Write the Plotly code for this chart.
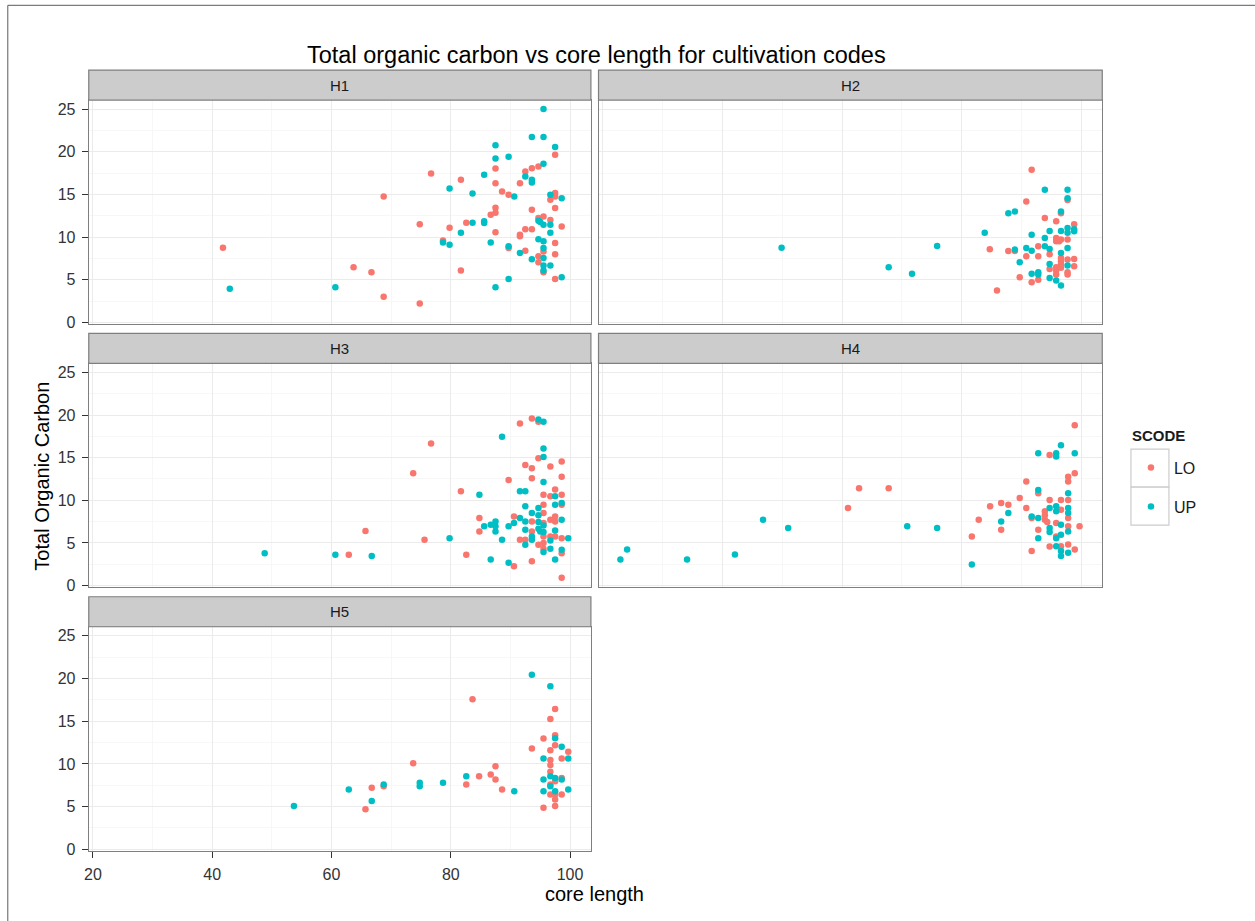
import plotly.graph_objects as go

# ---------------- data ----------------
panels = ["H1", "H2", "H3", "H4", "H5"]
codes = ["LO", "UP"]

h1_lo_x = [41.8, 63.7, 66.7, 68.75, 68.75, 74.8, 74.8, 76.7, 79.8, 81.7, 81.7, 82.6, 78.7, 87.5, 87.5, 87.5, 86.7, 87.5,
           87.5, 88.6, 89.7, 89.7, 91.6, 92.5, 93.6, 94.7, 93.6, 91.6, 91.6, 92.5, 93.6, 92.5, 94.7, 95.55, 96.7, 94.7,
           94.7, 95.55, 95.55, 96.7, 97.5, 97.5, 97.5, 97.5, 97.5, 97.5, 97.5, 98.6]
h1_lo_y = [8.76, 6.46, 5.88, 14.76, 3.0, 11.49, 2.22, 17.45, 11.1, 16.7, 6.07, 11.68, 9.6, 18.03, 16.3, 13.43, 12.6, 12.85,
           10.55, 15.34, 14.95, 8.72, 16.3, 17.68, 18.07, 18.26, 13.2, 10.28, 10.1, 10.9, 10.9, 8.41, 12.23, 12.4, 12.0, 7.75,
           7.05, 8.3, 5.88, 14.37, 15.15, 14.76, 19.63, 13.4, 9.3, 7.98, 5.1, 11.25]
h1_up_x = [42.95, 60.65, 78.7, 79.8, 79.8, 81.7, 83.65, 83.65, 85.6, 85.6, 85.6, 86.7, 87.5, 87.5, 87.5, 89.7, 89.7, 89.7,
           90.65, 91.6, 92.5, 93.6, 93.6, 93.6, 93.6, 94.7, 95.0, 94.7, 95.55, 95.55, 95.55, 95.55, 95.55, 95.55, 95.55,
           95.55, 95.55, 96.7, 96.7, 96.7, 96.7, 97.5, 98.6, 98.6]
h1_up_y = [3.93, 4.13, 9.35, 9.1, 15.7, 10.5, 15.1, 11.68, 17.3, 11.84, 11.64, 9.35, 20.76, 19.2, 4.13, 19.4, 8.92, 5.1,
           14.76, 8.14, 17.1, 16.7, 16.4, 21.73, 7.4, 11.9, 11.76, 9.73, 25.0, 21.73, 18.6, 11.45, 9.5, 8.72, 7.55,
           6.66, 6.07, 14.95, 11.45, 10.5, 6.66, 20.56, 14.56, 5.3]

h2_lo_x = [91.7, 90.8, 93.9, 95.8, 96.6, 97.7, 98.8, 95.8, 95.8, 96.3, 96.6, 97.7, 84.7, 87.8, 88.9, 90.8, 92.8, 92.8,
           94.7, 89.7, 91.7, 92.8, 85.9, 94.7, 95.8, 95.8, 95.8, 96.6, 96.6, 96.6, 97.7, 97.7, 97.7, 98.8, 98.8, 96.6]
h2_lo_y = [17.87, 14.17, 12.23, 11.84, 12.8, 14.33, 11.5, 9.9, 9.5, 9.5, 9.7, 9.7, 8.57, 8.37, 8.37, 7.75, 8.92, 7.75,
           8.0, 5.3, 4.7, 5.0, 3.74, 6.27, 6.46, 6.07, 5.6, 7.55, 7.17, 6.78, 7.36, 5.88, 5.6, 7.44, 6.58, 6.39]
h2_up_x = [49.9, 67.8, 71.7, 75.9, 83.85, 87.8, 88.9, 88.9, 89.7, 90.8, 91.7, 91.7, 91.7, 92.8, 92.8, 93.9, 93.9, 93.9,
           94.7, 94.7, 94.7, 94.7, 95.8, 96.6, 96.6, 96.6, 96.6, 97.7, 97.7, 97.7, 97.7, 97.7, 97.7, 98.8, 98.8]
h2_up_y = [8.76, 6.46, 5.69, 8.96, 10.5, 12.8, 13.0, 8.53, 7.05, 8.72, 10.28, 8.41, 5.69, 5.88, 5.6, 15.54, 9.9, 8.92,
           10.7, 8.6, 6.85, 5.2, 4.9, 13.0, 10.7, 8.14, 4.32, 15.54, 14.56, 11.06, 10.5, 8.72, 6.66, 10.9, 10.67]

h3_lo_x = [62.9, 65.7, 73.7, 75.6, 76.7, 81.7, 82.6, 84.8, 84.8, 89.7, 90.6, 90.6, 91.6, 91.6, 92.5, 92.5, 93.6, 93.6,
           93.6, 93.6, 93.6, 93.6, 94.7, 94.7, 94.7, 95.55, 95.55, 95.55, 95.55, 95.55, 95.55, 95.55, 96.7, 96.7, 96.7,
           96.7, 97.5, 97.5, 97.5, 97.5, 98.6, 98.6, 98.6, 98.6, 98.6, 98.6, 98.6]
h3_lo_y = [3.6, 6.39, 13.17, 5.37, 16.65, 11.05, 3.6, 7.92, 6.35, 12.38, 8.11, 2.27, 19.0, 5.37, 14.15, 5.37, 19.6, 13.75,
           12.58, 7.52, 6.35, 2.86, 19.2, 14.93, 4.78, 10.66, 9.48, 8.5, 7.33, 5.76, 4.98, 4.31, 13.95, 10.46, 7.72,
           5.76, 11.25, 8.11, 7.52, 5.76, 14.54, 12.77, 10.66, 9.48, 5.56, 3.8, 0.9]
h3_up_x = [48.8, 60.65, 66.75, 79.8, 84.8, 85.6, 86.7, 87.5, 87.5, 87.5, 88.6, 88.6, 86.7, 89.7, 90.6, 89.7, 91.6, 92.5,
           91.6, 92.5, 92.5, 92.5, 93.6, 93.6, 93.6, 92.5, 94.7, 95.55, 95.55, 95.55, 95.55, 94.7, 94.7, 94.7, 94.7,
           95.0, 95.55, 95.55, 95.55, 96.7, 96.7, 97.5, 97.5, 97.5, 97.5, 98.6, 98.6, 98.6, 99.7]
h3_up_y = [3.8, 3.6, 3.45, 5.56, 10.66, 6.94, 7.13, 7.52, 6.94, 6.35, 17.44, 5.37, 3.06, 6.94, 7.33, 2.66, 11.05, 11.05,
           7.92, 9.29, 7.52, 6.54, 8.5, 5.76, 5.37, 4.78, 19.47, 19.2, 16.07, 15.09, 12.15, 9.09, 8.23, 7.45, 6.66,
           6.35, 7.05, 6.27, 3.92, 5.29, 4.31, 10.46, 9.48, 6.47, 3.06, 9.68, 7.72, 4.19, 5.56]

h4_lo_x = [61.0, 62.85, 67.8, 81.7, 82.85, 84.75, 86.6, 86.6, 87.8, 89.7, 90.8, 90.8, 91.7, 91.7, 92.8, 92.8, 93.9, 93.9,
           93.9, 94.3, 94.7, 94.7, 94.7, 95.8, 95.8, 96.6, 96.6, 96.6, 97.8, 97.8, 97.8, 97.8, 97.8, 97.8, 98.9, 98.9,
           98.9, 99.7]
h4_lo_y = [9.09, 11.4, 11.4, 5.76, 7.72, 9.29, 9.68, 6.54, 9.48, 10.27, 12.19, 9.09, 7.92, 4.04, 10.82, 6.54, 8.7, 8.23,
           7.72, 7.45, 10.03, 15.32, 4.58, 7.33, 5.76, 10.03, 8.9, 4.62, 12.77, 12.19, 10.03, 7.92, 6.94, 4.82, 18.81,
           13.17, 4.23, 6.94]
h4_up_x = [22.96, 24.08, 34.1, 42.1, 46.8, 51.0, 70.9, 75.9, 81.7, 86.6, 87.8, 91.7, 92.8, 92.8, 92.8, 92.8, 94.7, 94.7,
           94.7, 95.8, 95.8, 95.8, 95.8, 95.8, 95.8, 96.6, 96.6, 96.6, 96.6, 96.6, 97.8, 97.8, 97.8, 97.8, 97.8, 98.9]
h4_up_y = [3.06, 4.23, 3.06, 3.64, 7.72, 6.74, 6.94, 6.74, 2.47, 7.52, 8.5, 8.11, 15.52, 11.2, 7.92, 5.56, 9.09, 6.74,
           6.27, 15.52, 15.13, 9.29, 8.7, 5.56, 4.62, 16.46, 7.13, 5.96, 4.04, 3.45, 10.82, 9.09, 8.5, 6.35, 3.84, 15.52]

h5_lo_x = [65.7, 66.75, 68.75, 73.7, 82.6, 83.65, 84.75, 86.7, 87.5, 87.5, 88.6, 93.6, 95.55, 95.55, 96.7, 96.7, 96.7,
           96.7, 96.7, 96.7, 96.7, 97.5, 97.5, 97.5, 97.5, 97.5, 97.5, 97.5, 98.6, 98.6, 98.6, 99.7]
h5_lo_y = [4.68, 7.2, 7.39, 10.06, 7.59, 17.57, 8.55, 8.75, 9.71, 8.17, 7.0, 11.8, 12.96, 4.88, 15.25, 11.61, 10.45,
           9.87, 9.09, 7.59, 6.42, 16.41, 13.35, 12.19, 7.97, 6.42, 5.84, 5.07, 10.64, 8.36, 6.42, 11.42]
h5_up_x = [53.7, 62.9, 66.75, 68.75, 74.8, 74.8, 78.7, 82.6, 90.65, 93.6, 96.7, 97.5, 98.6, 95.55, 99.7, 95.55, 96.7,
           97.5, 98.6, 96.7, 95.55, 97.5, 99.7]
h5_up_y = [5.07, 7.0, 5.65, 7.59, 7.78, 7.39, 7.78, 8.55, 6.81, 20.43, 19.08, 13.0, 12.0, 10.64, 10.64, 8.17, 8.55,
           8.36, 8.17, 7.39, 6.81, 6.81, 7.0]

panel_data = {
    "H1": {"LO": (h1_lo_x, h1_lo_y), "UP": (h1_up_x, h1_up_y)},
    "H2": {"LO": (h2_lo_x, h2_lo_y), "UP": (h2_up_x, h2_up_y)},
    "H3": {"LO": (h3_lo_x, h3_lo_y), "UP": (h3_up_x, h3_up_y)},
    "H4": {"LO": (h4_lo_x, h4_lo_y), "UP": (h4_up_x, h4_up_y)},
    "H5": {"LO": (h5_lo_x, h5_lo_y), "UP": (h5_up_x, h5_up_y)},
}

x_ticks = [20, 40, 60, 80, 100]
y_ticks = [0, 5, 10, 15, 20, 25]

# ---------------- styling / layout ----------------
W, H = 1255, 921
colors = {"LO": "#F8766D", "UP": "#00BFC4"}
FONT = "Liberation Sans, Arial, sans-serif"

# small correction between target picture positions and page positions
SX, OX, SY = 0.9965, 4.5, 0.992


def px(x):
    return ((x - OX) / SX) / W


def py(y):
    return 1 - (y / SY) / H


col_px = [(88.3, 590.7), (598.3, 1102.3)]
row_px = [(100.0, 324.0), (363.3, 587.0), (626.5, 850.7)]
strip_h = 30.0
positions = {"H1": (0, 0), "H2": (0, 1), "H3": (1, 0), "H4": (1, 1), "H5": (2, 0)}

fig = go.Figure()

for i, p in enumerate(panels):
    suffix = "" if i == 0 else str(i + 1)
    for c in codes:
        xs, ys = panel_data[p][c]
        fig.add_trace(go.Scatter(
            x=xs, y=ys, mode="markers", name=c,
            legendgroup=c, showlegend=(i == 0),
            marker=dict(color=colors[c], size=6.5, line=dict(width=0)),
            xaxis="x" + suffix, yaxis="y" + suffix,
        ))

layout = dict(
    width=W, height=H, autosize=False,
    margin=dict(l=0, r=0, t=0, b=0),
    paper_bgcolor="white", plot_bgcolor="white",
    font=dict(family=FONT, color="#1A1A1A"),
    showlegend=True,
    legend=dict(
        x=px(1128), y=py(450.5), xanchor="left", yanchor="top",
        font=dict(size=16, color="#1A1A1A"),
        bgcolor="rgba(0,0,0,0)", tracegroupgap=15, itemsizing="trace", itemwidth=36,
    ),
)

shapes = []
annotations = []

for i, p in enumerate(panels):
    r, c = positions[p]
    x0, x1 = col_px[c]
    y0, y1 = row_px[r]
    suffix = "" if i == 0 else str(i + 1)
    show_x = (p == "H5")
    show_y = (c == 0)
    layout["xaxis" + suffix] = dict(
        domain=[px(x0), px(x1)], anchor="y" + suffix,
        range=[19.3, 103.5], tickvals=x_ticks,
        showgrid=True, gridcolor="#EBEBEB", gridwidth=1.2,
        minor=dict(tickvals=[30, 50, 70, 90], showgrid=True, gridcolor="#F7F7F7", gridwidth=1, ticks=""),
        zeroline=False, showline=True, mirror=True, linecolor="#7F7F7F", linewidth=1.2,
        ticks="outside" if show_x else "", ticklen=6, tickcolor="#333333", tickwidth=1.2,
        showticklabels=show_x, tickfont=dict(size=16, color="#333333"), ticklabelstandoff=3,
    )
    layout["yaxis" + suffix] = dict(
        domain=[py(y1), py(y0)], anchor="x" + suffix,
        range=[-0.2, 26.05], tickvals=y_ticks,
        showgrid=True, gridcolor="#EBEBEB", gridwidth=1.2,
        minor=dict(tickvals=[2.5, 7.5, 12.5, 17.5, 22.5], showgrid=True, gridcolor="#F7F7F7", gridwidth=1, ticks=""),
        zeroline=False, showline=True, mirror=True, linecolor="#7F7F7F", linewidth=1.2,
        ticks="outside" if show_y else "", ticklen=6, tickcolor="#333333", tickwidth=1.2,
        showticklabels=show_y, tickfont=dict(size=16, color="#333333"), ticklabelstandoff=3,
    )
    # strip
    shapes.append(dict(type="rect", xref="paper", yref="paper",
                       x0=px(x0), x1=px(x1), y0=py(y0), y1=py(y0 - strip_h),
                       fillcolor="#CCCCCC", line=dict(color="#7F7F7F", width=1.2)))
    annotations.append(dict(text=p, xref="paper", yref="paper", x=px((x0 + x1) / 2), y=py(y0 - strip_h / 2),
                            showarrow=False, xanchor="center", yanchor="middle",
                            font=dict(size=15, color="#1A1A1A")))

# legend key boxes and title
for yk in (449, 487):
    shapes.append(dict(type="rect", xref="paper", yref="paper",
                       x0=px(1131), x1=px(1169), y0=py(yk + 38), y1=py(yk),
                       fillcolor="white", line=dict(color="#CCCCCC", width=1.2), layer="below"))
annotations.append(dict(text="<b>SCODE</b>", xref="paper", yref="paper", x=px(1130), y=py(435),
                        showarrow=False, xanchor="left", yanchor="middle",
                        font=dict(size=15, color="#1A1A1A")))

# outer frame of the picture
shapes.append(dict(type="rect", xref="paper", yref="paper",
                   x0=px(7.3), x1=1.2, y0=-0.2, y1=py(5.3),
                   fillcolor="rgba(0,0,0,0)", line=dict(color="#5A5A5A", width=1)))

annotations.append(dict(text="Total organic carbon vs core length for cultivation codes",
                        xref="paper", yref="paper", x=px(596), y=py(55), showarrow=False,
                        xanchor="center", yanchor="middle", font=dict(size=23.5, color="#000000")))
annotations.append(dict(text="Total Organic Carbon", xref="paper", yref="paper", x=px(42), y=py(476),
                        showarrow=False, textangle=-90, xanchor="center", yanchor="middle",
                        font=dict(size=20, color="#000000")))
annotations.append(dict(text="core length", xref="paper", yref="paper", x=px(594), y=py(894),
                        showarrow=False, xanchor="center", yanchor="middle",
                        font=dict(size=20, color="#000000")))

layout["shapes"] = shapes
layout["annotations"] = annotations
fig.update_layout(**layout)

fig.write_html(
    "out.html",
    config={"displayModeBar": False},
    post_script="document.body.style.margin='0';document.body.style.overflow='hidden';",
)
